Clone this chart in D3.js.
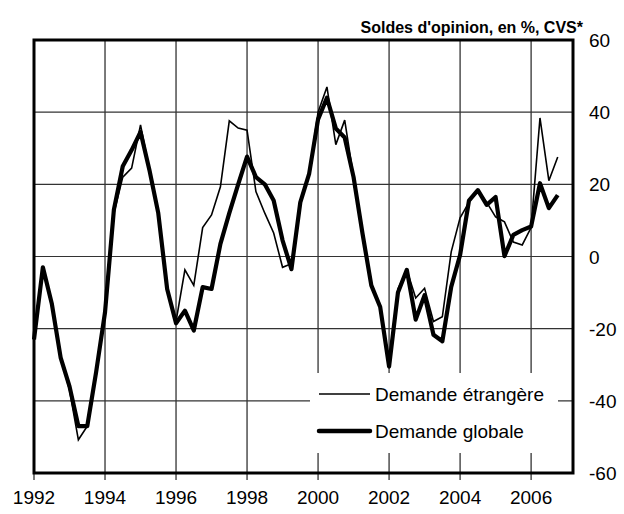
<!DOCTYPE html>
<html>
<head>
<meta charset="utf-8">
<script src="https://cdn.jsdelivr.net/npm/d3@7"></script>
<style>
  body { margin: 0; background: #fff; }
  text { font-family: Arial, "Liberation Sans", sans-serif; fill: #000; }
</style>
</head>
<body>
<svg></svg>
<script>
const width = 624;
const height = 514;
const margin = {left: 34, right: 51, top: 40, bottom: 41};

// quarterly series, 1992Q1 .. 2006Q4
const startYear = 1992;
const etrangere = [-23, -3.5, -13, -28, -37, -50.8, -47, -33, -16, 12, 22, 24.5, 36.5, 24, 12, -9,
  -18, -3.7, -8, 8, 11.5, 19.3, 37.6, 35.6, 35, 18, 12, 6.5, -3, -2, 15, 23,
  40, 47, 31, 37.8, 22, 6.5, -8, -14, -29, -9, -3.7, -11.5, -8.8, -18, -16.7, 1.3,
  10.7, 15, 18.4, 15, 11, 9.6, 4, 3.2, 8, 38.4, 21, 27.6];
const globale = [-23, -3, -13, -28, -36, -47, -47, -32, -15.5, 13, 25, 29.5, 34.5, 24, 12, -9,
  -18.5, -15, -20.5, -8.5, -9, 3.5, 12, 20, 27.7, 22, 20, 15.5, 4.5, -3.5, 15, 23,
  38, 44, 35.5, 33, 22, 6.5, -8, -14, -30.5, -10, -3.7, -17.5, -10.7, -21.7, -23.5, -8.4,
  0.4, 15.5, 18.4, 14.3, 16.5, 0.1, 6, 7.3, 8.3, 20.3, 13.4, 17];
const yearTicks = [1992, 1994, 1996, 1998, 2000, 2002, 2004, 2006];
const valueTicks = [-60, -40, -20, 0, 20, 40, 60];
const seriesNames = ["Demande étrangère", "Demande globale"];
const title = "Soldes d'opinion, en %, CVS*";

const svg = d3.select('svg')
    .attr('width', width).attr('height', height);

const x = d3.scaleLinear()
    .domain([1992, 2007.18])
    .range([margin.left, width - margin.right]);
const y = d3.scaleLinear()
    .domain([-60, 60])
    .range([height - margin.bottom, margin.top]);

const date = i => startYear + i * 0.25;

// grid
svg.append('g')
    .selectAll('line.v')
    .data(yearTicks)
    .enter().append('line')
    .attr('x1', d => x(d)).attr('x2', d => x(d))
    .attr('y1', y(60)).attr('y2', y(-60) + 7)
    .style('stroke', '#222').style('stroke-width', 1.2);

svg.append('g')
    .selectAll('line.h')
    .data(valueTicks)
    .enter().append('line')
    .attr('x1', x.range()[0]).attr('x2', x.range()[1])
    .attr('y1', d => y(d)).attr('y2', d => y(d))
    .style('stroke', '#333').style('stroke-width', 1.2);

// legend background hides grid
svg.append('rect')
    .attr('x', 310).attr('y', 373)
    .attr('width', 248).attr('height', 80)
    .style('fill', '#fff');

// series
const line = d3.line()
    .x((d, i) => x(date(i)))
    .y(d => y(d));

svg.append('path')
    .datum(etrangere)
    .attr('d', line)
    .style('fill', 'none')
    .style('stroke', '#000')
    .style('stroke-width', 1.6)
    .style('stroke-linejoin', 'miter');

svg.append('path')
    .datum(globale)
    .attr('d', line)
    .style('fill', 'none')
    .style('stroke', '#000')
    .style('stroke-width', 4.2)
    .style('stroke-linejoin', 'round');

// frame
svg.append('rect')
    .attr('x', x.range()[0]).attr('y', y(60))
    .attr('width', x.range()[1] - x.range()[0])
    .attr('height', y(-60) - y(60))
    .style('fill', 'none')
    .style('stroke', '#000')
    .style('stroke-width', 3);

// axis labels
svg.append('g')
    .selectAll('text')
    .data(yearTicks)
    .enter().append('text')
    .attr('x', d => x(d))
    .attr('y', 504)
    .attr('text-anchor', 'middle')
    .style('font-size', '19px')
    .text(d => d);

svg.append('g')
    .selectAll('text')
    .data(valueTicks)
    .enter().append('text')
    .attr('x', 589)
    .attr('y', d => y(d) + 7)
    .style('font-size', '19px')
    .text(d => d);

svg.append('text')
    .attr('x', 583).attr('y', 33)
    .attr('text-anchor', 'end')
    .style('font-size', '16px')
    .style('font-weight', 'bold')
    .text(title);

// legend
const legend = svg.append('g');
const legendRows = [
  {name: seriesNames[0], w: 1.6, y: 394},
  {name: seriesNames[1], w: 4.5, y: 431}
];
legend.selectAll('line')
    .data(legendRows)
    .enter().append('line')
    .attr('x1', 319).attr('x2', 370)
    .attr('y1', d => d.y).attr('y2', d => d.y)
    .style('stroke', '#000')
    .style('stroke-width', d => d.w)
    .style('stroke-linecap', d => d.w > 2 ? 'round' : 'butt');
legend.selectAll('text')
    .data(legendRows)
    .enter().append('text')
    .attr('x', 375)
    .attr('y', d => d.y + 7)
    .style('font-size', '19px')
    .text(d => d.name);
</script>
</body>
</html>
